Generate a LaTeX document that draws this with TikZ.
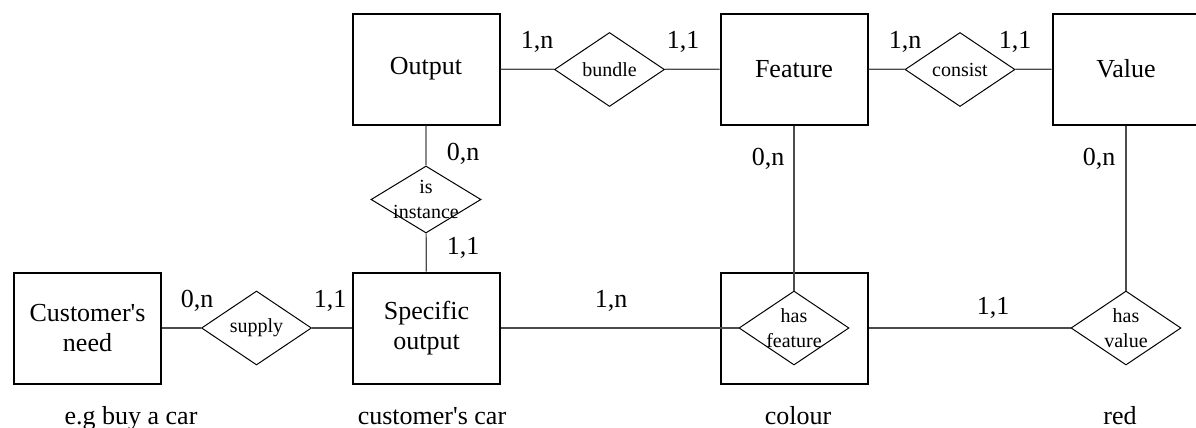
\documentclass[tikz,border=0pt]{standalone}
\usepackage{fontspec}
\setmainfont{Liberation Serif}
\usetikzlibrary{shapes.geometric}
\tikzset{
	entity/.style={draw, line width=1pt, minimum width=73.5pt, minimum height=55.5pt, inner sep=0pt, align=center, font=\fontsize{13}{15}\selectfont},
	relation/.style={draw, diamond, line width=0.5pt, inner sep=0pt, minimum width=55pt, minimum height=37pt},
	rtext/.style={inner sep=0pt, align=center, font=\fontsize{10}{12.5}\selectfont},
	card/.style={anchor=base, inner sep=0pt, font=\fontsize{13}{15}\selectfont},
	link/.style={line width=0.6pt, color=black!70}
}

\begin{document}
\begin{tikzpicture}[x=0.5pt, y=-0.5pt]
		%%%%% START %%%%%
		\useasboundingbox (0, 0) rectangle (1196, 428);
		
		% entities
		\node[entity] (need) at (87.5, 328) {Customer\textquotesingle s\\need};
		\node[entity] (specific) at (426.5, 328) {Specific\\output};
		\node[entity] (output) at (426, 69) {Output};
		\node[entity] (feature) at (794, 69) {Feature};
		\node[entity] (value) at (1126, 69) {Value};
		\node[entity] (colourbox) at (794.5, 328) {};
		
		% relations
		\node[relation, label={[rtext]center:supply}] (supply) at (256.5, 328) {};
		\node[relation, minimum height=33.5pt, label={[rtext]center:is\\instance}] (instance) at (426, 199.5) {};
		\node[relation, label={[rtext]center:bundle}] (bundle) at (609.5, 69.5) {};
		\node[relation, label={[rtext]center:consist}] (consist) at (960, 69.5) {};
		\node[relation, label={[rtext]center:has\\feature}] (hasfeature) at (794, 328) {};
		\node[relation, label={[rtext]center:has\\value}] (hasvalue) at (1126, 328) {};
		
		% connectors
		\draw[link] (need) -- (supply) -- (specific);
		\draw[link] (output) -- (bundle) -- (feature);
		\draw[link] (feature) -- (consist) -- (value);
		\draw[link] (output) -- (instance) -- (specific);
		\draw[link] (specific.east) -- (hasfeature.west);
		\draw[link] (feature.south) -- (hasfeature.north);
		\draw[link] (colourbox.east) -- (hasvalue.west);
		\draw[link] (value.south -| hasvalue.north) -- (hasvalue.north);
		
		% cardinalities
		\node[card] (c1) at (537, 48) {1,n};
		\node[card] (c2) at (683, 48) {1,1};
		\node[card] (c3) at (905, 48) {1,n};
		\node[card] (c4) at (1015, 48) {1,1};
		\node[card] (c5) at (463, 160) {0,n};
		\node[card] (c6) at (463, 254) {1,1};
		\node[card] (c7) at (768, 165) {0,n};
		\node[card] (c8) at (1099, 165) {0,n};
		\node[card] (c9) at (197, 307) {0,n};
		\node[card] (c10) at (330, 307) {1,1};
		\node[card] (c11) at (611, 307) {1,n};
		\node[card] (c12) at (993, 314) {1,1};
		
		% examples
		\node[card] (ex1) at (131, 424) {e.g buy a car};
		\node[card] (ex2) at (432, 424) {customer\textquotesingle s car};
		\node[card] (ex3) at (798, 424) {colour};
		\node[card] (ex4) at (1120, 424) {red};
		%%%%% END %%%%%
\end{tikzpicture}
\end{document}
